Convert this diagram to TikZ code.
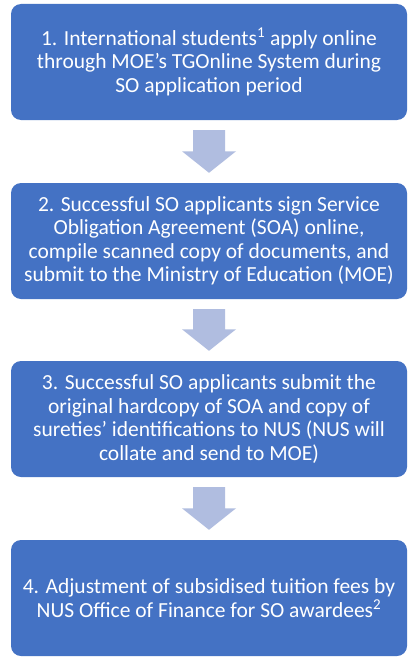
\documentclass[tikz,border=0pt]{standalone}
\usepackage{fontspec}
\setmainfont{Carlito}
\usetikzlibrary{calc}
\definecolor{boxblue}{RGB}{68,114,196}
\definecolor{arrowblue}{RGB}{176,189,224}
\tikzset{
  stepbox/.style={fill=boxblue, draw=none, rounded corners=10pt,
    minimum width=396pt, minimum height=116pt, text=white, align=center,
    inner sep=0pt, font=\fontsize{21.5pt}{23.5pt}\selectfont},
  blockarrow/.style={fill=arrowblue, draw=none}
}
\newcommand{\downarrowblock}[2]{%
  \fill[blockarrow] ($(#1.south)+(-16pt,-10pt)$) -- ($(#1.south)+(16pt,-10pt)$)
    -- ($(#2.north)+(16pt,31.5pt)$) -- ($(#2.north)+(27pt,31.5pt)$)
    -- ($(#2.north)+(0pt,10pt)$) -- ($(#2.north)+(-27pt,31.5pt)$)
    -- ($(#2.north)+(-16pt,31.5pt)$) -- cycle;}
\begin{document}
\begin{tikzpicture}[x=1pt,y=1pt]
\useasboundingbox[fill=white] (0,0) rectangle (420,-661);
\node[stepbox] (b1) at (209,-62) {1. International students\textsuperscript{1} apply online\\through MOE’s TGOnline System during\\SO application period};
\node[stepbox] (b2) at (209,-241) {2. Successful SO applicants sign Service\\Obligation Agreement (SOA) online,\\compile scanned copy of documents, and\\submit to the Ministry of Education (MOE)};
\node[stepbox] (b3) at (209,-419) {3. Successful SO applicants submit the\\original hardcopy of SOA and copy of\\sureties’ identifications to NUS (NUS will\\collate and send to MOE)};
\node[stepbox] (b4) at (209,-598) {4. Adjustment of subsidised tuition fees by\\NUS Office of Finance for SO awardees\textsuperscript{2}};
\downarrowblock{b1}{b2}
\downarrowblock{b2}{b3}
\downarrowblock{b3}{b4}
\end{tikzpicture}
\end{document}
